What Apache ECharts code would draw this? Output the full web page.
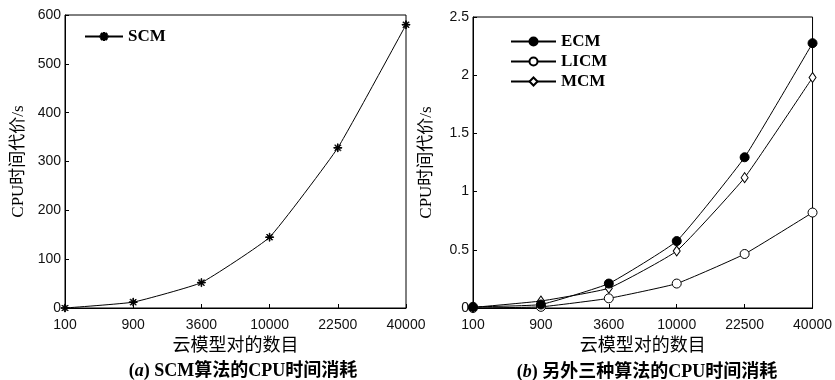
<!DOCTYPE html>
<html>
<head>
<meta charset="utf-8">
<script src="https://cdn.jsdelivr.net/npm/echarts@6/dist/echarts.min.js"></script>
<style>
  html, body { margin: 0; padding: 0; background: #fff; }
  #chart { width: 835px; height: 380px; }
</style>
</head>
<body>
<div id="chart"></div>
<script>
// categories (number of cloud model pairs)
const cats = ['100', '900', '3600', '10000', '22500', '40000'];
// (a) SCM
const scm = [0, 12, 52, 145, 328, 580];
// (b) other three
const ecm = [0.01, 0.03, 0.21, 0.575, 1.295, 2.275];
const licm = [0.0, 0.01, 0.083, 0.21, 0.464, 0.82];
const mcm = [0.005, 0.06, 0.17, 0.49, 1.12, 1.98];

const yTicksA = { min: 0, max: 600, interval: 100 };
const yTicksB = { min: 0, max: 2.5, interval: 0.5 };

const serif = '"Liberation Serif", "Noto Sans CJK SC", serif';
const sans = '"Liberation Sans", Arial, sans-serif';

// asterisk marker made of four thin bars
const star = 'path://M4.6,0 L5.4,0 L5.4,10 L4.6,10 Z M0,4.6 L10,4.6 L10,5.4 L0,5.4 Z ' +
    'M1.2,1.8 L1.8,1.2 L8.8,8.2 L8.2,8.8 Z M8.2,1.2 L8.8,1.8 L1.8,8.8 L1.2,8.2 Z';

const chart = echarts.init(document.getElementById('chart'));

const xAxisBase = (gridIndex) => ({
    type: 'category',
    gridIndex: gridIndex,
    data: cats,
    boundaryGap: false,
    axisLine: { lineStyle: { color: '#000', width: 1 } },
    axisTick: { inside: true, length: 4, lineStyle: { color: '#000' } },
    axisLabel: { color: '#111', fontFamily: sans, fontSize: 14, margin: 10 },
    splitLine: { show: false },
    name: '云模型对的数目',
    nameLocation: 'middle',
    nameGap: 26,
    nameTextStyle: { color: '#000', fontFamily: serif, fontSize: 18 }
});

const yAxisBase = (gridIndex, ticks) => ({
    type: 'value',
    gridIndex: gridIndex,
    min: ticks.min,
    max: ticks.max,
    interval: ticks.interval,
    axisLine: { show: true, lineStyle: { color: '#000', width: 1 } },
    axisTick: { show: true, inside: true, length: 4, lineStyle: { color: '#000' } },
    axisLabel: { color: '#111', fontFamily: sans, fontSize: 14, margin: 4 },
    splitLine: { show: false },
    name: 'CPU时间代价/s',
    nameLocation: 'middle',
    nameGap: 38,
    nameTextStyle: { color: '#000', fontFamily: serif, fontSize: 17 }
});

const lineSeries = (name, data, xi, symbol, size, fill, z) => ({
    name: name,
    type: 'line',
    xAxisIndex: xi,
    yAxisIndex: xi,
    data: data,
    z: z,
    smooth: 0.12,
    symbol: symbol,
    symbolSize: size,
    showAllSymbol: true,
    lineStyle: { color: '#000', width: 1 },
    itemStyle: { color: fill, borderColor: '#000', borderWidth: 1 },
    animation: false
});

const option = {
    backgroundColor: '#fff',
    animation: false,
    title: [
        {
            text: '({i|a}) SCM算法的CPU时间消耗',
            left: 238, top: 357, textAlign: 'center',
            textStyle: {
                fontFamily: serif, fontSize: 18, fontWeight: 'bold', color: '#000',
                rich: { i: { fontFamily: serif, fontSize: 18, fontWeight: 'bold', fontStyle: 'italic', color: '#000' } }
            }
        },
        {
            text: '({i|b}) 另外三种算法的CPU时间消耗',
            left: 642, top: 358, textAlign: 'center',
            textStyle: {
                fontFamily: serif, fontSize: 18, fontWeight: 'bold', color: '#000',
                rich: { i: { fontFamily: serif, fontSize: 18, fontWeight: 'bold', fontStyle: 'italic', color: '#000' } }
            }
        }
    ],
    grid: [
        { left: 65, right: 429, top: 15, bottom: 72, show: true, borderColor: '#000', borderWidth: 1 },
        { left: 473, right: 21, top: 17, bottom: 72, show: true, borderColor: '#000', borderWidth: 1 }
    ],
    legend: [
        {
            data: ['SCM'],
            left: 79, top: 23,
            orient: 'vertical',
            itemWidth: 38, itemHeight: 9, itemGap: 3,
            textStyle: { fontFamily: serif, fontSize: 17, fontWeight: 'bold', color: '#000' }
        },
        {
            data: ['ECM', 'LICM', 'MCM'],
            left: 505, top: 28,
            orient: 'vertical',
            itemWidth: 45, itemHeight: 10, itemGap: 3,
            textStyle: { fontFamily: serif, fontSize: 17, fontWeight: 'bold', color: '#000' }
        }
    ],
    xAxis: [xAxisBase(0), xAxisBase(1)],
    yAxis: [yAxisBase(0, yTicksA), yAxisBase(1, yTicksB)],
    series: [
        lineSeries('SCM', scm, 0, star, 8, '#000', 2),
        lineSeries('ECM', ecm, 1, 'circle', 9, '#000', 4),
        lineSeries('LICM', licm, 1, 'circle', 9, '#fff', 2),
        lineSeries('MCM', mcm, 1, 'diamond', [7, 10], '#fff', 3)
    ]
};

chart.setOption(option);
</script>
</body>
</html>
